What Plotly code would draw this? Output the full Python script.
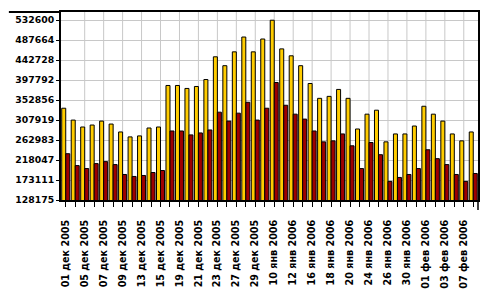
import plotly.graph_objects as go

# Trading days (categories)
dates = [
    "01 дек 2005", "02 дек 2005", "05 дек 2005", "06 дек 2005", "07 дек 2005",
    "08 дек 2005", "09 дек 2005", "12 дек 2005", "13 дек 2005", "14 дек 2005",
    "15 дек 2005", "16 дек 2005", "19 дек 2005", "20 дек 2005", "21 дек 2005",
    "22 дек 2005", "23 дек 2005", "26 дек 2005", "27 дек 2005", "28 дек 2005",
    "29 дек 2005", "30 дек 2005",
    "10 янв 2006", "11 янв 2006", "12 янв 2006", "13 янв 2006", "16 янв 2006",
    "17 янв 2006", "18 янв 2006", "19 янв 2006", "20 янв 2006", "23 янв 2006",
    "24 янв 2006", "25 янв 2006", "26 янв 2006", "27 янв 2006", "30 янв 2006",
    "31 янв 2006",
    "01 фев 2006", "02 фев 2006", "03 фев 2006", "06 фев 2006", "07 фев 2006",
    "08 фев 2006",
]

# Yellow series
series_yellow = [
    334620, 307925, 292354, 296803, 305701, 299027, 281231, 270109, 272333, 290129,
    292354, 385783, 385783, 379109, 383558, 399130, 450293, 430273, 461416, 494783,
    461416, 490334, 532600, 468089, 452518, 430273, 390232, 356864, 361313, 376885,
    356864, 287905, 321272, 330170, 258986, 276782, 276782, 294578, 339068, 321272,
    305701, 276782, 261211, 281231,
]

# Dark red series
series_red = [
    232292, 205598, 198925, 210047, 214496, 207823, 185578, 181129, 183353, 190027,
    194476, 283456, 283456, 274558, 279007, 285680, 325721, 305701, 323497, 347966,
    307925, 334619, 392456, 341293, 321272, 310150, 283456, 258986, 261211, 276782,
    250088, 198925, 257503, 230068, 170006, 178904, 185578, 198925, 241190, 221170,
    207823, 185578, 170006, 187802,
]

y_ticks = [128175, 173111, 218047, 262983, 307919, 352856, 397792, 442728, 487664, 532600]
y_min, y_max = 128175, 551064

tick_text = [d if i % 2 == 0 else "" for i, d in enumerate(dates)]
grid_dates = dates[2::2]

fig = go.Figure()
fig.add_trace(go.Bar(x=dates, y=series_yellow, marker=dict(color="#FFCC00", line=dict(color="black", width=1))))
fig.add_trace(go.Bar(x=dates, y=series_red, marker=dict(color="#9E0000", line=dict(color="black", width=1))))

shapes = []
for d in grid_dates:
    shapes.append(dict(type="line", xref="x", yref="paper", x0=d, x1=d, y0=0, y1=1,
                       line=dict(color="#C8C8C8", width=1), layer="below"))
# top frame extension to the left
shapes.append(dict(type="line", xref="paper", yref="paper", x0=-0.125, x1=0, y0=1, y1=1,
                   line=dict(color="black", width=2)))
# right frame stub below axis
shapes.append(dict(type="line", xref="paper", yref="paper", x0=1, x1=1, y0=0, y1=-0.053,
                   line=dict(color="black", width=1.5)))

fig.update_layout(
    width=495, height=300,
    margin=dict(l=61, r=17, t=10, b=100),
    paper_bgcolor="white", plot_bgcolor="white",
    barmode="group", bargap=0.155, bargroupgap=0,
    showlegend=False,
    shapes=shapes,
    xaxis=dict(
        type="category", tickmode="array", tickvals=dates, ticktext=tick_text,
        tickangle=-90, showgrid=False, showline=True, linecolor="black", linewidth=2,
        mirror=True, ticks="outside", ticklen=5, tickwidth=1, tickcolor="black",
        ticklabelstandoff=9,
        tickfont=dict(family="DejaVu Sans", size=9.6, color="black", weight=700),
        range=[-0.5, len(dates) - 0.5],
    ),
    yaxis=dict(
        range=[y_min, y_max], tickmode="array", tickvals=y_ticks,
        ticktext=[str(v) for v in y_ticks],
        showgrid=True, gridcolor="#C8C8C8", gridwidth=1, zeroline=False,
        showline=True, linecolor="black", linewidth=2, mirror=True,
        ticks="outside", ticklen=3, tickwidth=1, tickcolor="black",
        tickfont=dict(family="DejaVu Sans", size=9.3, color="black", weight=700),
    ),
)

fig.write_html("out.html")
